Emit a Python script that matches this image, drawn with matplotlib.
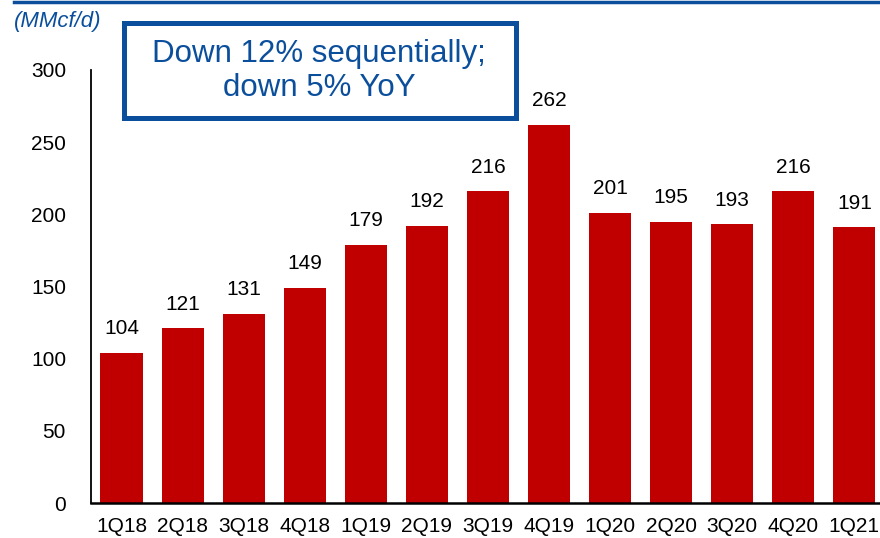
import matplotlib
matplotlib.use("Agg")
import matplotlib.pyplot as plt
from matplotlib.patches import Rectangle
from matplotlib.lines import Line2D

quarters = ["1Q18", "2Q18", "3Q18", "4Q18", "1Q19", "2Q19", "3Q19",
            "4Q19", "1Q20", "2Q20", "3Q20", "4Q20", "1Q21"]
volumes = [104, 121, 131, 149, 179, 192, 216, 262, 201, 195, 193, 216, 191]
yticks = [0, 50, 100, 150, 200, 250, 300]

red = "#C00000"
blue = "#0B4F9C"

plt.rcParams["font.family"] = ["Liberation Sans", "DejaVu Sans"]

fig = plt.figure(figsize=(8.8, 5.38), dpi=100)
ax = fig.add_axes([91 / 880, 0.065, 1 - 91 / 880, 0.805])

x = list(range(len(quarters)))
ax.bar(x, volumes, width=0.69, color=red)
for xi, v in zip(x, volumes):
    ax.text(xi, v + 10, str(v), ha="center", va="bottom", fontsize=15)

ax.set_xlim(-0.5, 12.42)
ax.set_ylim(0, 300)
ax.set_yticks(yticks)
ax.set_xticks(x)
ax.set_xticklabels(quarters)
ax.tick_params(axis="both", length=0, labelsize=15)
ax.tick_params(axis="x", pad=10)
ax.tick_params(axis="y", pad=18)
for s in ["top", "right"]:
    ax.spines[s].set_visible(False)
ax.spines["left"].set_linewidth(1.3)
ax.spines["bottom"].set_linewidth(1.8)

# top rule
fig.add_artist(Line2D([14 / 880, 1], [1 - 1.5 / 538, 1 - 1.5 / 538],
                      color=blue, lw=2.5, transform=fig.transFigure))

fig.text(14 / 880, 1 - 22 / 538, "(MMcf/d)", color=blue, fontsize=16,
         style="italic", va="center", ha="left")

# callout box
fig.add_artist(Rectangle((123.5 / 880, 1 - 117.5 / 538), 392 / 880, 95 / 538,
                         transform=fig.transFigure, fill=False,
                         edgecolor=blue, lw=3.6))
fig.text(319 / 880, 1 - 71 / 538, "Down 12% sequentially;\ndown 5% YoY",
         color=blue, fontsize=22.5, ha="center", va="center", linespacing=1.2)

fig.savefig("out.png", dpi=100)
